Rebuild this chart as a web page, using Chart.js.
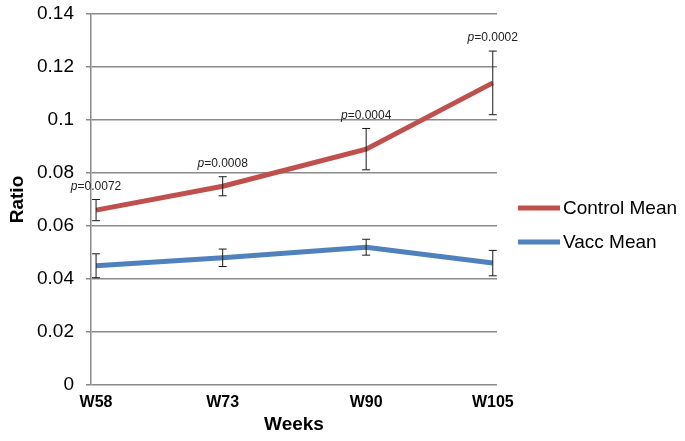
<!DOCTYPE html>
<html>
<head>
<meta charset="utf-8">
<script src="https://cdn.jsdelivr.net/npm/chart.js@4.4.1/dist/chart.umd.min.js"></script>
<style>
  html, body { margin: 0; padding: 0; background: #fff; }
  #wrap { width: 685px; height: 441px; }
</style>
</head>
<body>
<div id="wrap"><canvas id="chart"></canvas></div>
<script>
const weeks = [58, 73, 90, 105];
const weekLabels = ["W58", "W73", "W90", "W105"];
const controlMean = [0.066, 0.075, 0.089, 0.114];
const controlErr = [0.004, 0.0036, 0.0078, 0.012];
const vaccMean = [0.045, 0.048, 0.052, 0.046];
const vaccErr = [0.0045, 0.0033, 0.003, 0.0048];
const pValues = ["0.0072", "0.0008", "0.0004", "0.0002"];
const yTickLabels = ["0", "0.02", "0.04", "0.06", "0.08", "0.1", "0.12", "0.14"];

const FONT = "'Liberation Sans', Arial, sans-serif";
const GRID = "#898989";

const toPoints = (vals) => vals.map((v, i) => ({ x: weeks[i], y: v }));

// error bars + p-value labels
const errorBars = {
  id: "errorBars",
  afterDatasetsDraw(chart) {
    const { ctx, scales: { x, y } } = chart;
    ctx.save();
    ctx.strokeStyle = "#1a1a1a";
    ctx.lineWidth = 1;
    chart.data.datasets.forEach((ds) => {
      ds.data.forEach((p, i) => {
        const px = x.getPixelForValue(p.x);
        const top = y.getPixelForValue(p.y + ds.err[i]);
        const bot = y.getPixelForValue(p.y - ds.err[i]);
        ctx.beginPath();
        ctx.moveTo(px, top); ctx.lineTo(px, bot);
        ctx.moveTo(px - 4, top); ctx.lineTo(px + 4, top);
        ctx.moveTo(px - 4, bot); ctx.lineTo(px + 4, bot);
        ctx.stroke();
      });
    });
    // p-values over the control series
    const ctrl = chart.data.datasets[0];
    ctx.fillStyle = "#222";
    ctx.textBaseline = "middle";
    ctrl.data.forEach((p, i) => {
      const px = x.getPixelForValue(p.x);
      const py = y.getPixelForValue(p.y + ctrl.err[i]) - 13;
      ctx.font = "italic 12px " + FONT;
      const w1 = ctx.measureText("p").width;
      ctx.font = "12px " + FONT;
      const rest = "=" + pValues[i];
      const w2 = ctx.measureText(rest).width;
      const start = px - (w1 + w2) / 2;
      ctx.textAlign = "left";
      ctx.font = "italic 12px " + FONT;
      ctx.fillText("p", start, py);
      ctx.font = "12px " + FONT;
      ctx.fillText(rest, start + w1, py);
    });
    ctx.restore();
  }
};

// legend on the right, line + label
const sideLegend = {
  id: "sideLegend",
  afterDraw(chart) {
    const { ctx, chartArea } = chart;
    const x0 = chartArea.right + 21;
    const rows = [208, 242];
    ctx.save();
    chart.data.datasets.forEach((ds, i) => {
      ctx.strokeStyle = ds.borderColor;
      ctx.lineWidth = 5;
      ctx.beginPath();
      ctx.moveTo(x0, rows[i]);
      ctx.lineTo(x0 + 42, rows[i]);
      ctx.stroke();
      ctx.fillStyle = "#000";
      ctx.font = "19px " + FONT;
      ctx.textAlign = "left";
      ctx.textBaseline = "middle";
      ctx.fillText(ds.label, x0 + 45, rows[i] + 1);
    });
    ctx.restore();
  }
};

new Chart(document.getElementById("chart"), {
  type: "line",
  data: {
    datasets: [
      {
        label: "Control Mean",
        data: toPoints(controlMean),
        err: controlErr,
        borderColor: "#c0504d",
        borderWidth: 5,
        pointRadius: 0,
        tension: 0
      },
      {
        label: "Vacc Mean",
        data: toPoints(vaccMean),
        err: vaccErr,
        borderColor: "#4f81bd",
        borderWidth: 5,
        pointRadius: 0,
        tension: 0
      }
    ]
  },
  options: {
    responsive: true,
    maintainAspectRatio: false,
    animation: false,
    layout: { padding: { top: 14, right: 188, left: 0, bottom: 0 } },
    plugins: {
      legend: { display: false },
      tooltip: { enabled: false }
    },
    scales: {
      x: {
        type: "linear",
        min: 57.4,
        max: 105.5,
        afterBuildTicks: (s) => { s.ticks = weeks.map((v) => ({ value: v })); },
        afterFit: (s) => { s.height = 56; },
        grid: { display: false, drawTicks: false },
        border: { display: false },
        ticks: {
          padding: 8,
          color: "#000",
          font: { family: FONT, size: 16, weight: "bold" },
          callback: (v) => weekLabels[weeks.indexOf(v)]
        },
        title: {
          display: true,
          text: "Weeks",
          color: "#000",
          padding: { bottom: 5 },
          font: { family: FONT, size: 19, weight: "bold" }
        }
      },
      y: {
        min: 0,
        max: 0.14,
        afterFit: (s) => { s.width = 91; s.paddingTop = 0; s.paddingBottom = 0; },
        grid: { color: GRID, lineWidth: 1.5, tickLength: 5 },
        border: { color: GRID, width: 1.5 },
        ticks: {
          stepSize: 0.02,
          padding: 12,
          color: "#000",
          font: { family: FONT, size: 19 },
          callback: (v, i) => yTickLabels[i]
        },
        title: {
          display: true,
          text: "Ratio",
          color: "#000",
          padding: { top: 6 },
          font: { family: FONT, size: 19, weight: "bold" }
        }
      }
    }
  },
  plugins: [errorBars, sideLegend]
});
</script>
</body>
</html>
